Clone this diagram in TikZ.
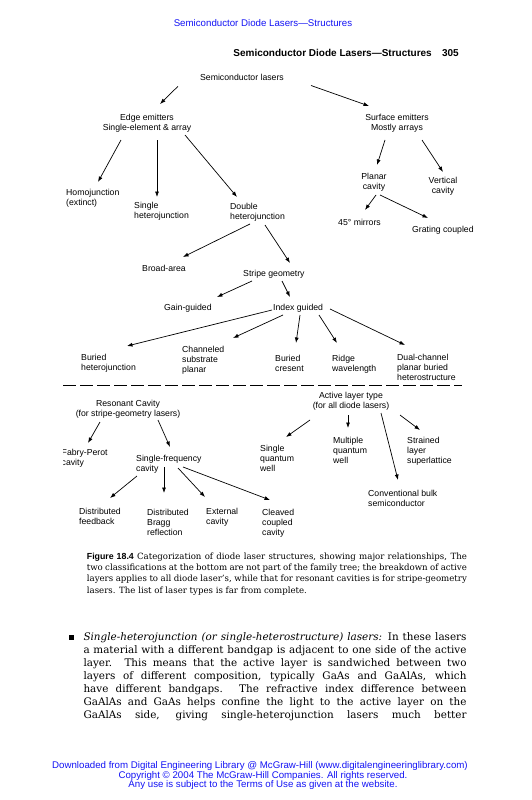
\documentclass[tikz,border=0pt]{standalone}
\usepackage{fontspec}
\setmainfont{DejaVu Serif}
\newfontfamily\tf{Liberation Sans}
\usetikzlibrary{arrows.meta}
\definecolor{linkblue}{RGB}{20,20,245}
\begin{document}
\begin{tikzpicture}[x=1pt,y=-1pt,
  lbl/.style={inner sep=0pt, font=\tf\fontsize{8.7}{10}\selectfont, align=left, anchor=north west},
  lblc/.style={lbl, align=center, anchor=north},
  arr/.style={-{Latex[length=5.5pt,width=4pt]}, line width=0.7pt},
  captxt/.style={inner sep=0pt, anchor=base west, font=\fontsize{8.6}{11}\selectfont},
  bodytxt/.style={inner sep=0pt, anchor=base west, font=\fontsize{10.4}{13}\selectfont},
  foot/.style={inner sep=0pt, anchor=base, text=linkblue, font=\tf\fontsize{9.7}{10}\selectfont}]
\useasboundingbox[fill=white] (0,0) rectangle (531,800);

% headers
\node[inner sep=0pt, anchor=base, text=linkblue, font=\tf\fontsize{9.7}{11}\selectfont] (hdr) at (263,26.5) {Semiconductor Diode Lasers—Structures};
\node[inner sep=0pt, anchor=base east, font=\tf\bfseries\fontsize{10}{12}\selectfont] (rh) at (432,56.5) {Semiconductor Diode Lasers—Structures};
\node[inner sep=0pt, anchor=base east, font=\tf\bfseries\fontsize{10}{12}\selectfont] (pg) at (459,56.5) {305};

% tree nodes
\node[lblc] (sl) at (242,73.5) {Semiconductor lasers};
\node[lblc] (ee) at (147,113.5) {Edge emitters\\Single-element \& array};
\node[lblc] (se) at (397,113.5) {Surface emitters\\Mostly arrays};
\node[lbl] (homo) at (66,188.5) {Homojunction\\(extinct)};
\node[lbl] (shj) at (134,201.5) {Single\\heterojunction};
\node[lbl] (dhj) at (230,202.5) {Double\\heterojunction};
\node[lblc] (pc) at (374,173) {Planar\\cavity};
\node[lblc] (vc) at (443,177) {Vertical\\cavity};
\node[lbl] (m45) at (338,218.5) {45° mirrors};
\node[lbl] (gc) at (412,225.5) {Grating coupled};
\node[lbl] (ba) at (142,264.5) {Broad-area};
\node[lbl] (sg) at (243,269.5) {Stripe geometry};
\node[lbl] (gg) at (164,303.5) {Gain-guided};
\node[lbl] (ig) at (273,303.5) {Index guided};
\node[lbl] (bh) at (81,353.5) {Buried\\heterojunction};
\node[lbl] (cs) at (182,346) {Channeled\\substrate\\planar};
\node[lbl] (bc) at (275,354.5) {Buried\\cresent};
\node[lbl] (rw) at (332,354.5) {Ridge\\wavelength};
\node[lbl] (dc) at (397,354) {Dual-channel\\planar buried\\heterostructure};

\coordinate (dl1) at (63,385.5);
\coordinate (dl2) at (462,385.5);
\draw[line width=0.7pt, dash pattern=on 13pt off 4pt] (dl1) -- (dl2);

\node[lblc] (alt) at (351,392) {Active layer type\\(for all diode lasers)};
\node[lblc] (rc) at (128,399.5) {Resonant Cavity\\(for stripe-geometry lasers)};
\begin{scope}
  \clip (63,440) rectangle (130,475);
  \node[lbl] (fp) at (61.5,448.5) {Fabry-Perot\\cavity};
\end{scope}
\node[lbl] (sf) at (136,454.5) {Single-frequency\\cavity};
\node[lbl] (sqw) at (260,444.5) {Single\\quantum\\well};
\node[lbl] (mqw) at (333,436.5) {Multiple\\quantum\\well};
\node[lbl] (sls) at (407,436.5) {Strained\\layer\\superlattice};
\node[lbl] (cbs) at (368,489.5) {Conventional bulk\\semiconductor};
\node[lbl] (df) at (79,507.5) {Distributed\\feedback};
\node[lbl] (dbr) at (147,508.5) {Distributed\\Bragg\\reflection};
\node[lbl] (ec) at (206,507.5) {External\\cavity};
\node[lbl] (ccc) at (262,508.5) {Cleaved\\coupled\\cavity};

% arrow end points
\coordinate (a1s) at (178,86.3);  \coordinate (a1e) at (160,104);
\coordinate (a2s) at (311,85.5);  \coordinate (a2e) at (369,106);
\coordinate (a3s) at (121,140);   \coordinate (a3e) at (98,182);
\coordinate (a4s) at (157,140);   \coordinate (a4e) at (157,197);
\coordinate (a5s) at (185,135);   \coordinate (a5e) at (237,197);
\coordinate (a6s) at (385,140);   \coordinate (a6e) at (377,165);
\coordinate (a7s) at (422,140);   \coordinate (a7e) at (443,172);
\coordinate (a8s) at (376,195);   \coordinate (a8e) at (365,210);
\coordinate (a9s) at (380,195);   \coordinate (a9e) at (428,218);
\coordinate (b1s) at (250,224);   \coordinate (b1e) at (183,257);
\coordinate (b2s) at (265,225);   \coordinate (b2e) at (290,263);
\coordinate (b3s) at (252,281);   \coordinate (b3e) at (217,297);
\coordinate (b4s) at (282,281);   \coordinate (b4e) at (290,297);
\coordinate (c1s) at (272,310);   \coordinate (c1e) at (127,346);
\coordinate (c2s) at (283,315);   \coordinate (c2e) at (233,338);
\coordinate (c3s) at (300,315);   \coordinate (c3e) at (296,343);
\coordinate (c4s) at (319,315);   \coordinate (c4e) at (337,343);
\coordinate (c5s) at (330,309);   \coordinate (c5e) at (405,345);
\coordinate (d1s) at (100,422);   \coordinate (d1e) at (88,443);
\coordinate (d2s) at (158,420);   \coordinate (d2e) at (170,447);
\coordinate (e1s) at (310,420);   \coordinate (e1e) at (286,437);
\coordinate (e2s) at (348,415);   \coordinate (e2e) at (348,428);
\coordinate (e3s) at (381,413);   \coordinate (e3e) at (398,480);
\coordinate (e4s) at (400,415);   \coordinate (e4e) at (420,430);
\coordinate (f1s) at (137,476);   \coordinate (f1e) at (110,498);
\coordinate (f2s) at (164,467);   \coordinate (f2e) at (164,493);
\coordinate (f3s) at (178,468);   \coordinate (f3e) at (205,497);
\coordinate (f4s) at (183,467);   \coordinate (f4e) at (270,500);

\foreach \a in {a1,a2,a3,a4,a5,a6,a7,a8,a9,b1,b2,b3,b4,c1,c2,c3,c4,c5,d1,d2,e1,e2,e3,e4,f1,f2,f3,f4}
  \draw[arr] (\a s) -- (\a e);

% caption
\node[captxt] (cap1) at (86.7,559.5) {\makebox[380pt][s]{{\tf\bfseries\fontsize{8.8}{11}\selectfont Figure 18.4} Categorization of diode laser structures, showing major relationships, The}};
\node[captxt] (cap2) at (86.7,570.7) {\makebox[380pt][s]{two classifications at the bottom are not part of the family tree; the breakdown of active}};
\node[captxt] (cap3) at (86.7,581.9) {\makebox[380pt][s]{layers applies to all diode laser's, while that for resonant cavities is for stripe-geometry}};
\node[captxt] (cap4) at (86.7,593.1) {lasers. The list of laser types is far from complete.};

% body text
\node[fill=black, inner sep=0pt, minimum size=5pt] (bul) at (71,637) {};
\node[bodytxt] (b1) at (83.3,640.7) {\makebox[383pt][s]{\textit{Single-heterojunction (or single-heterostructure) lasers:} In these lasers}};
\node[bodytxt] (b2) at (83.3,653.6) {\makebox[383pt][s]{a material with a different bandgap is adjacent to one side of the active}};
\node[bodytxt] (b3) at (83.3,666.5) {\makebox[383pt][s]{layer. This means that the active layer is sandwiched between two}};
\node[bodytxt] (b4) at (83.3,679.4) {\makebox[383pt][s]{layers of different composition, typically GaAs and GaAlAs, which}};
\node[bodytxt] (b5) at (83.3,692.3) {\makebox[383pt][s]{have different bandgaps. The refractive index difference between}};
\node[bodytxt] (b6) at (83.3,705.2) {\makebox[383pt][s]{GaAlAs and GaAs helps confine the light to the active layer on the}};
\node[bodytxt] (b7) at (83.3,718.1) {\makebox[383pt][s]{GaAlAs side, giving single-heterojunction lasers much better}};

% footer
\node[foot] (f1) at (260,768.7) {Downloaded from Digital Engineering Library @ McGraw-Hill (www.digitalengineeringlibrary.com)};
\node[foot] (f2) at (263,778.2) {Copyright © 2004 The McGraw-Hill Companies. All rights reserved.};
\node[foot] (f3) at (263,787.7) {Any use is subject to the Terms of Use as given at the website.};
\end{tikzpicture}
\end{document}
